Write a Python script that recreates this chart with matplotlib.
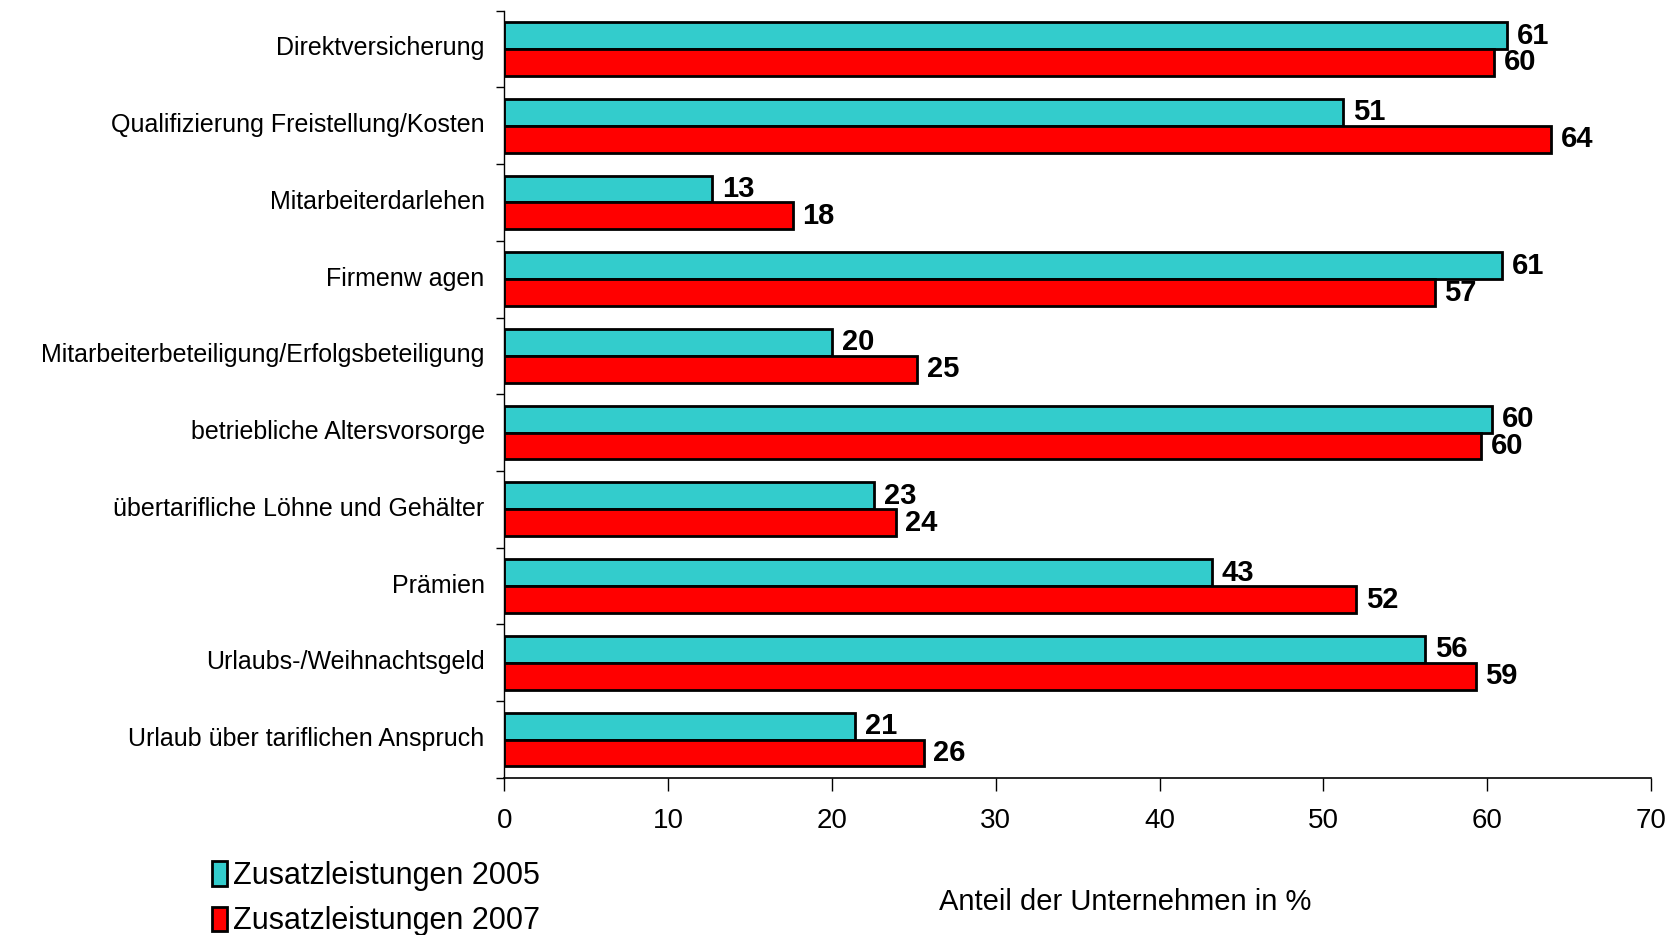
import matplotlib.pyplot as plt
import matplotlib.transforms as mtransforms
import numpy as np
from matplotlib.patches import Patch

plt.rcParams['font.family'] = ['Liberation Sans', 'DejaVu Sans']

categories = [
    "Direktversicherung",
    "Qualifizierung Freistellung/Kosten",
    "Mitarbeiterdarlehen",
    "Firmenw agen",
    "Mitarbeiterbeteiligung/Erfolgsbeteiligung",
    "betriebliche Altersvorsorge",
    "übertarifliche Löhne und Gehälter",
    "Prämien",
    "Urlaubs-/Weihnachtsgeld",
    "Urlaub über tariflichen Anspruch",
]
values_2005 = [61.2, 51.2, 12.7, 60.9, 20.0, 60.3, 22.6, 43.2, 56.2, 21.4]
values_2007 = [60.4, 63.9, 17.6, 56.8, 25.2, 59.6, 23.9, 52.0, 59.3, 25.6]
labels_2005 = [61, 51, 13, 61, 20, 60, 23, 43, 56, 21]
labels_2007 = [60, 64, 18, 57, 25, 60, 24, 52, 59, 26]
xticks = [0, 10, 20, 30, 40, 50, 60, 70]

cyan = "#33CCCC"
red = "#FF0000"

fig = plt.figure(figsize=(16.75, 9.35), dpi=100)
ax = fig.add_axes([0.301, 0.168, 0.6847, 0.8207])

y = np.arange(len(categories))
h = 0.35
b1 = ax.barh(y - h / 2, values_2005, height=h, color=cyan, edgecolor="black", linewidth=2)
b2 = ax.barh(y + h / 2, values_2007, height=h, color=red, edgecolor="black", linewidth=2)
ax.bar_label(b1, labels=[str(v) for v in labels_2005], padding=7,
             fontsize=21, fontweight="bold")
ax.bar_label(b2, labels=[str(v) for v in labels_2007], padding=7,
             fontsize=21, fontweight="bold")

ax.set_xlim(0, 70)
ax.set_ylim(len(categories) - 0.5, -0.5)
ax.set_xticks(xticks)
ax.set_xticklabels([str(t) for t in xticks], fontsize=20)
ax.tick_params(axis="x", length=9, width=1, pad=13)

# ticks between the groups, names in the middle
ax.set_yticks(np.arange(-0.5, len(categories), 1.0))
ax.set_yticklabels([])
ax.set_yticks(y, minor=True)
ax.set_yticklabels(categories, minor=True, fontsize=18)
ax.tick_params(axis="y", which="major", length=6, width=1)
ax.tick_params(axis="y", which="minor", length=0, pad=14)
shift = mtransforms.ScaledTranslation(0, 3 / 100, fig.dpi_scale_trans)
for lbl in ax.get_yticklabels(minor=True):
    lbl.set_transform(lbl.get_transform() + shift)

for s in ["top", "right"]:
    ax.spines[s].set_visible(False)
ax.spines["left"].set_linewidth(1)
ax.spines["bottom"].set_linewidth(1.2)

fig.text(1125 / 1675, 1 - 902 / 935, "Anteil der Unternehmen in %",
         fontsize=21, ha="center", va="center")

handles = [Patch(facecolor=cyan, edgecolor="black", linewidth=2),
           Patch(facecolor=red, edgecolor="black", linewidth=2)]
fig.legend(handles, ["Zusatzleistungen 2005", "Zusatzleistungen 2007"],
           loc="upper left", bbox_to_anchor=(212 / 1675, 1 - 861 / 935),
           frameon=False, fontsize=22, handlelength=0.5, handleheight=0.85,
           handletextpad=0.2, labelspacing=0.5, borderpad=0, borderaxespad=0)

fig.savefig("out.png", dpi=100)
